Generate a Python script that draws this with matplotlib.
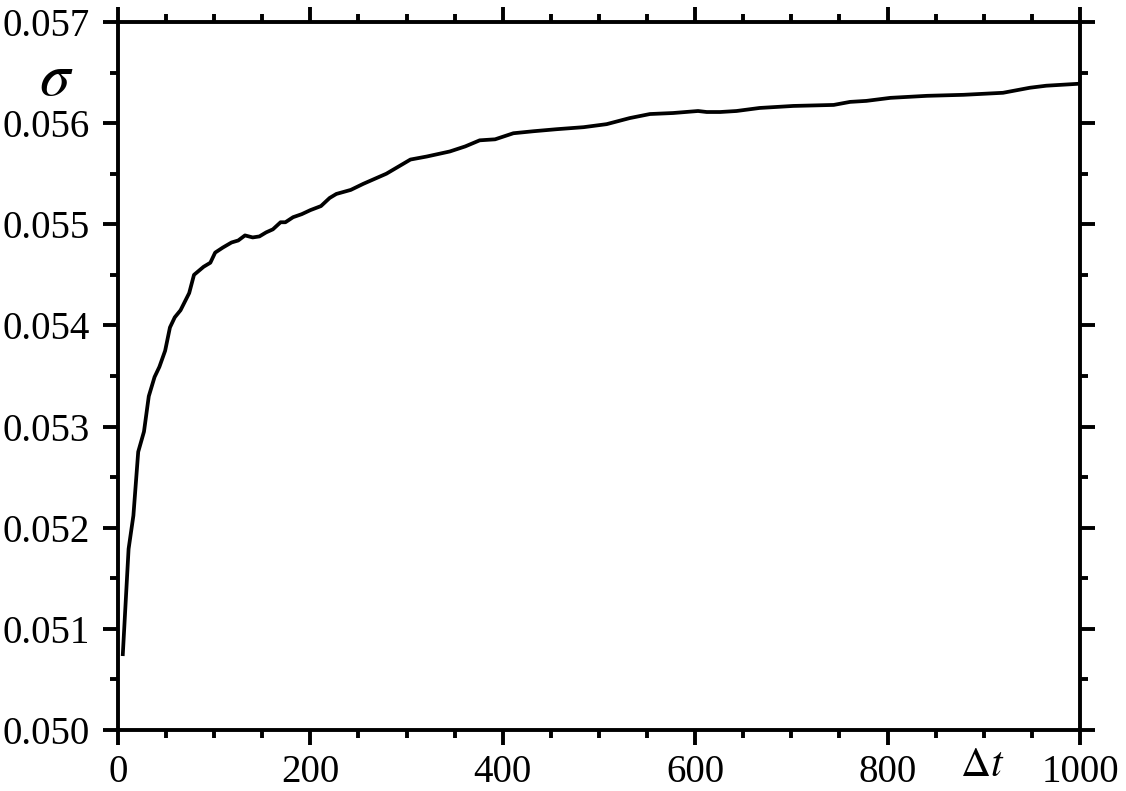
import matplotlib
matplotlib.use('Agg')
import matplotlib.pyplot as plt
from matplotlib.ticker import MultipleLocator, FormatStrFormatter

plt.rcParams['font.family'] = ['Liberation Serif', 'DejaVu Serif']
plt.rcParams['mathtext.fontset'] = 'stix'

# values
dt = [5, 11, 16, 21, 27, 32, 38, 43, 49, 54, 59, 65, 74, 79, 89, 96, 101, 109,
      118, 125, 132, 140, 147, 154, 161, 169, 174, 182, 191, 200, 211, 220, 227,
      242, 255, 279, 304, 321, 345, 361, 376, 392, 411, 432, 456, 484, 508, 532,
      553, 577, 603, 612, 626, 643, 667, 702, 744, 761, 778, 803, 841, 879, 920,
      948, 965, 1000]
sigma = [0.05075, 0.05179, 0.05212, 0.05275, 0.05295, 0.05330, 0.05349, 0.05359,
         0.05375, 0.05398, 0.05408, 0.05415, 0.05432, 0.05450, 0.05458, 0.05462,
         0.05472, 0.05477, 0.05482, 0.05484, 0.05489, 0.05487, 0.05488, 0.05492,
         0.05495, 0.05502, 0.05502, 0.05507, 0.05510, 0.05514, 0.05518, 0.05526,
         0.05530, 0.05534, 0.05540, 0.05550, 0.05564, 0.05567, 0.05572, 0.05577,
         0.05583, 0.05584, 0.05590, 0.05592, 0.05594, 0.05596, 0.05599, 0.05605,
         0.05609, 0.05610, 0.05612, 0.05611, 0.05611, 0.05612, 0.05615, 0.05617,
         0.05618, 0.05621, 0.05622, 0.05625, 0.05627, 0.05628, 0.05630, 0.05635,
         0.05637, 0.05639]

fig = plt.figure(figsize=(11.26, 7.91), dpi=100)
ax = fig.add_axes([0.1048, 0.0771, 0.8543, 0.8951])

ax.plot(dt, sigma, color='black', lw=2.7, solid_joinstyle='round')

ax.set_xlim(0, 1000)
ax.set_ylim(0.050, 0.057)
ax.xaxis.set_major_locator(MultipleLocator(200))
ax.xaxis.set_minor_locator(MultipleLocator(50))
ax.yaxis.set_major_locator(MultipleLocator(0.001))
ax.yaxis.set_minor_locator(MultipleLocator(0.0005))
ax.yaxis.set_major_formatter(FormatStrFormatter('%.3f'))

for s in ax.spines.values():
    s.set_linewidth(2.8)

ax.tick_params(which='both', direction='out', top=True, right=True,
               width=2.8, labelsize=28)
ax.tick_params(which='major', length=11)
ax.tick_params(which='minor', length=6)
ax.tick_params(axis='x', which='major', pad=6)
ax.tick_params(axis='y', which='major', pad=9)

# axis labels placed inside the figure like the original
ax.text(-0.064, 0.918, r'$\sigma$', transform=ax.transAxes, fontsize=44,
        ha='center', va='center')
ax.text(0.898, -0.05, r'$\Delta t$', transform=ax.transAxes, fontsize=30,
        ha='center', va='center')

fig.savefig('out.png', dpi=100)
